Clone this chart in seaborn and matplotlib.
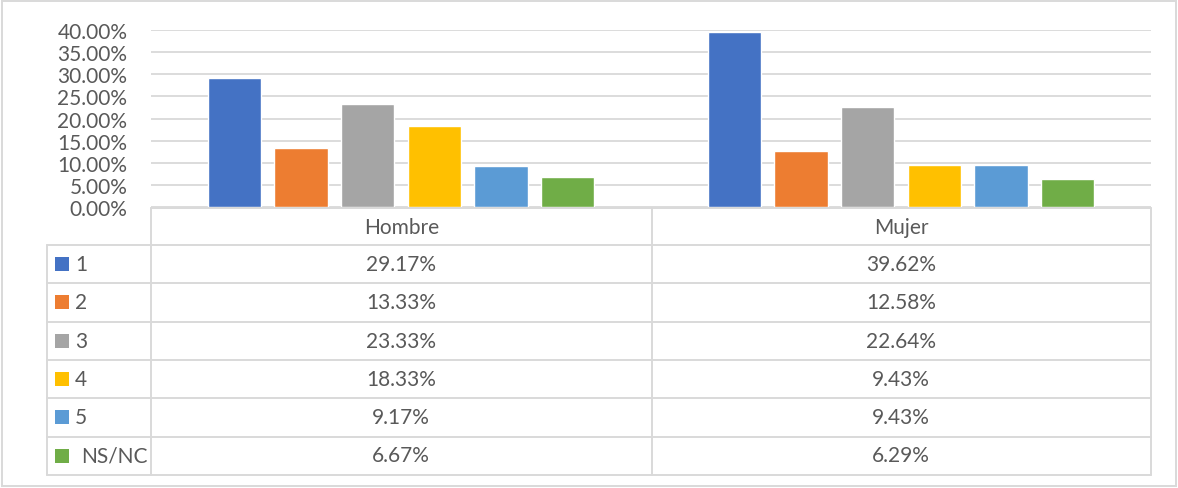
import matplotlib
matplotlib.use("Agg")
import matplotlib.pyplot as plt
import seaborn as sns
import pandas as pd
from matplotlib.patches import Rectangle
from matplotlib.lines import Line2D

# Data
groups = ["Hombre", "Mujer"]
categories = ["1", "2", "3", "4", "5", "NS/NC"]
hombre = [29.17, 13.33, 23.33, 18.33, 9.17, 6.67]
mujer = [39.62, 12.58, 22.64, 9.43, 9.43, 6.29]
colors = ["#4472C4", "#ED7D31", "#A5A5A5", "#FFC000", "#5B9BD5", "#70AD47"]
yticks = [0, 5, 10, 15, 20, 25, 30, 35, 40]

values = {"Hombre": hombre, "Mujer": mujer}
df = pd.DataFrame(
    [(g, c, v / 100.0) for g in groups for c, v in zip(categories, values[g])],
    columns=["grupo", "respuesta", "valor"],
)

sns.set_theme(style="white")
plt.rcParams["font.family"] = ["Lato", "DejaVu Sans"]

W, H = 1178, 489
fig = plt.figure(figsize=(W / 100, H / 100), dpi=100)
fig.patch.set_facecolor("white")

TXT = "#595959"
GRID = "#d9d9d9"
FS = 15

def fx(x):
    return x / W

def fy(y):
    return 1 - y / H

# Plot area in pixel coordinates
px_l, px_r, px_t, px_b = 151, 1151, 31, 208
ax = fig.add_axes([fx(px_l), fy(px_b), (px_r - px_l) / W, (px_b - px_t) / H])

sns.barplot(
    data=df, x="grupo", y="valor", hue="respuesta",
    order=groups, hue_order=categories, palette=colors,
    width=0.8, gap=0.2, saturation=1, legend=False, ax=ax,
)
ax.set_xlim(-0.5, 1.5)
ax.set_ylim(0, 0.40)
ax.set_yticks([t / 100 for t in yticks])
ax.set_yticklabels([f"{t:.2f}%" for t in yticks], color=TXT, fontsize=FS)
ax.tick_params(axis="y", length=0, pad=17)
ax.set_xticks([])
ax.set_xlabel("")
ax.set_ylabel("")
ax.yaxis.grid(True, color=GRID, linewidth=1.3)
ax.set_axisbelow(True)
for s in ax.spines.values():
    s.set_visible(False)

# Data table below the plot
def hline(x0, x1, y):
    fig.add_artist(Line2D([fx(x0), fx(x1)], [fy(y), fy(y)], color=GRID,
                          linewidth=1.4, transform=fig.transFigure))

def vline(x, y0, y1):
    fig.add_artist(Line2D([fx(x), fx(x)], [fy(y0), fy(y1)], color=GRID,
                          linewidth=1.4, transform=fig.transFigure))

tab_left, col_mid = 47, 651.5
head_top = 209
row_edges = [246, 284, 322.5, 360.5, 399, 437.5, 475.5]

hline(px_l, px_r, head_top)
for y in row_edges:
    hline(tab_left, px_r, y)
vline(px_l, head_top, row_edges[-1])
vline(col_mid, head_top, row_edges[-1])
vline(px_r, head_top, row_edges[-1])
vline(tab_left, row_edges[0], row_edges[-1])

col_centers = [(px_l + col_mid) / 2, (col_mid + px_r) / 2]
head_center = (head_top + row_edges[0]) / 2
for g, xc in zip(groups, col_centers):
    fig.text(fx(xc), fy(head_center), g, ha="center", va="center",
             color=TXT, fontsize=FS)

for i, (cat, col) in enumerate(zip(categories, colors)):
    yc = (row_edges[i] + row_edges[i + 1]) / 2
    fig.add_artist(Rectangle((fx(55), fy(yc + 7)), 14 / W, 14 / H,
                             facecolor=col, edgecolor="none",
                             transform=fig.transFigure))
    fig.text(fx(75 if len(cat) == 1 else 81), fy(yc), cat, ha="left",
             va="center", color=TXT, fontsize=FS)
    for g, xc in zip(groups, col_centers):
        fig.text(fx(xc), fy(yc), f"{values[g][i]:.2f}%", ha="center",
                 va="center", color=TXT, fontsize=FS)

# Chart border
fig.add_artist(Rectangle((fx(2), fy(487)), (1176 - 2) / W, (487 - 2) / H,
                         facecolor="none", edgecolor=GRID, linewidth=1.4,
                         transform=fig.transFigure))

fig.savefig("out.png", dpi=100, facecolor="white")
